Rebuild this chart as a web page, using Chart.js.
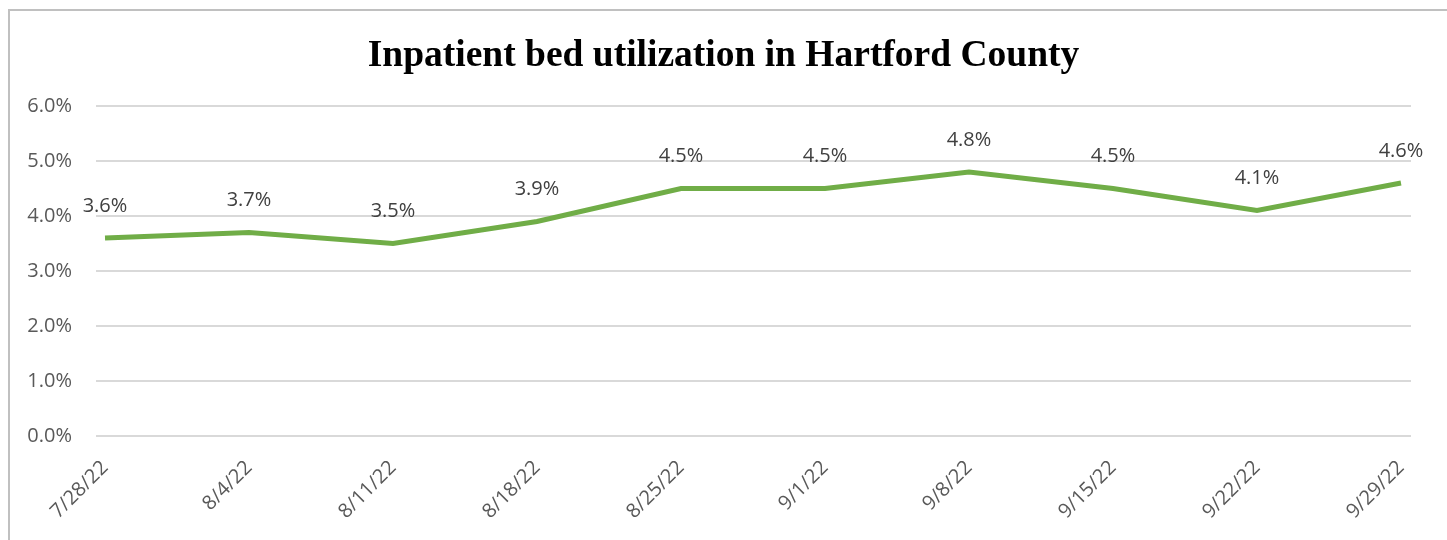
<!DOCTYPE html>
<html>
<head>
<meta charset="utf-8">
<script src="https://cdn.jsdelivr.net/npm/chart.js@4.4.0/dist/chart.umd.min.js"></script>
<style>
    body { margin: 0; background: #fff; overflow: hidden; }
    #marco {
        position: absolute; left: 8px; top: 9px; width: 1500px; height: 600px;
        border-left: 2px solid #c0c0c0; border-top: 2px solid #c0c0c0;
    }
    #graficoCamas { position: absolute; left: 0; top: 0; }
</style>
</head>
<body>
<div id="marco"></div>
<canvas id="graficoCamas" width="1447" height="540"></canvas>
<script>
// Datos del gráfico
const fechas = ['7/28/22', '8/4/22', '8/11/22', '8/18/22', '8/25/22', '9/1/22', '9/8/22', '9/15/22', '9/22/22', '9/29/22'];
const utilizacion = [3.6, 3.7, 3.5, 3.9, 4.5, 4.5, 4.8, 4.5, 4.1, 4.6];
const ticksEjeY = [0, 1, 2, 3, 4, 5, 6];

const fuenteTexto = "'Open Sans', 'DejaVu Sans', sans-serif";

// Líneas de cuadrícula horizontales, un poco más largas que el área del gráfico (como en Excel)
const cuadricula = {
    id: 'cuadricula',
    beforeDatasetsDraw(chart) {
        const ctx = chart.ctx;
        const area = chart.chartArea;
        const ejeY = chart.scales.y;
        ctx.save();
        ctx.strokeStyle = '#d9d9d9';
        ctx.lineWidth = 2;
        ejeY.ticks.forEach(t => {
            const y = ejeY.getPixelForValue(t.value);
            ctx.beginPath();
            ctx.moveTo(area.left - 9, y);
            ctx.lineTo(area.right + 10, y);
            ctx.stroke();
        });
        ctx.restore();
    }
};

// Plugin sencillo para escribir el valor encima de cada punto
const etiquetasDatos = {
    id: 'etiquetasDatos',
    afterDatasetsDraw(chart) {
        const ctx = chart.ctx;
        const meta = chart.getDatasetMeta(0);
        ctx.save();
        ctx.font = '20px ' + fuenteTexto;
        ctx.fillStyle = '#404040';
        ctx.textAlign = 'center';
        ctx.textBaseline = 'middle';
        meta.data.forEach((punto, i) => {
            ctx.fillText(utilizacion[i].toFixed(1) + '%', punto.x, punto.y - 32);
        });
        ctx.restore();
    }
};

function generarGraficoCamas() {
    const ctx = document.getElementById('graficoCamas').getContext('2d');

    const data = {
        labels: fechas,
        datasets: [{
            label: 'Utilización',
            data: utilizacion,
            borderColor: '#70AD47',
            borderWidth: 5,
            pointRadius: 0,
            tension: 0,
            fill: false
        }]
    };

    const config = {
        type: 'line',
        data: data,
        plugins: [cuadricula, etiquetasDatos],
        options: {
            responsive: false,
            animation: false,
            layout: {
                padding: { left: 0, right: 0, top: 18, bottom: 0 }
            },
            scales: {
                x: {
                    offset: false,
                    grid: { display: false },
                    border: { display: false },
                    ticks: {
                        color: '#595959',
                        font: { family: fuenteTexto, size: 20 },
                        maxRotation: 45,
                        minRotation: 45,
                        padding: 12,
                        autoSkip: false
                    },
                    afterFit: (eje) => {
                        eje.height = 104;
                        eje.paddingLeft = 0;
                        eje.paddingRight = 46;
                    }
                },
                y: {
                    min: ticksEjeY[0],
                    max: ticksEjeY[ticksEjeY.length - 1],
                    afterBuildTicks: (eje) => {
                        eje.ticks = ticksEjeY.map(v => ({ value: v }));
                    },
                    border: { display: false },
                    grid: {
                        display: false,
                        tickLength: 9
                    },
                    ticks: {
                        color: '#595959',
                        font: { family: fuenteTexto, size: 20 },
                        padding: 24,
                        callback: (v) => Number(v).toFixed(1) + '%'
                    },
                    afterFit: (eje) => {
                        eje.width = 105;
                    }
                }
            },
            plugins: {
                legend: { display: false },
                tooltip: { enabled: false },
                title: {
                    display: true,
                    text: 'Inpatient bed utilization in Hartford County',
                    color: '#000000',
                    font: { family: "'Liberation Serif', 'Times New Roman', serif", size: 37.5, weight: 'bold' },
                    padding: { top: 16, bottom: 27 }
                }
            }
        }
    };

    new Chart(ctx, config);
}

document.addEventListener('DOMContentLoaded', function() {
    if (typeof Chart !== 'undefined') {
        generarGraficoCamas();
    } else {
        console.error('Chart.js no está cargado.');
    }
});
</script>
</body>
</html>
